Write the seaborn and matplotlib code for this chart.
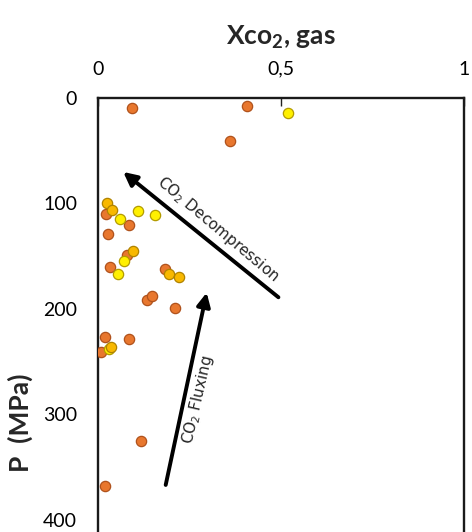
import pandas as pd
import matplotlib
matplotlib.use("Agg")
import matplotlib.pyplot as plt
import seaborn as sns

# values (x = XCO2 in gas, y = pressure in MPa)
orange_x = [0.092, 0.406, 0.361, 0.022, 0.085, 0.027, 0.080, 0.033, 0.184,
            0.133, 0.148, 0.211, 0.020, 0.084, 0.007, 0.117, 0.019]
orange_p = [9.8, 7.4, 40.5, 109.9, 120.3, 128.6, 148.8, 159.9, 162.4,
            191.5, 187.7, 198.8, 227.0, 228.2, 241.2, 325.1, 367.8]
yellow_x = [0.518, 0.108, 0.157, 0.060, 0.072, 0.055, 0.029]
yellow_p = [14.5, 106.8, 110.9, 115.0, 154.2, 166.5, 238.4]
amber_x = [0.025, 0.038, 0.095, 0.193, 0.220, 0.035]
amber_p = [99.2, 106.2, 144.7, 167.1, 170.1, 235.7]

x_ticks = [0, 0.5, 1]
x_tick_labels = ["0", "0,5", "1"]
y_ticks = [0, 100, 200, 300, 400]

df = pd.concat([
    pd.DataFrame({"x": orange_x, "p": orange_p, "group": "orange"}),
    pd.DataFrame({"x": yellow_x, "p": yellow_p, "group": "yellow"}),
    pd.DataFrame({"x": amber_x, "p": amber_p, "group": "amber"}),
], ignore_index=True)

sns.set_theme(style="white")
plt.rcParams["font.family"] = ["Lato", "DejaVu Sans"]

fig = plt.figure(figsize=(4.72, 5.32), dpi=100)
# axes run past the bottom edge of the figure, like the cropped original
ax = fig.add_axes([0.2076, -0.1757, 0.7754, 0.9915])

face = {"orange": "#E8772E", "yellow": "#FFF000", "amber": "#F8B800"}
edge = {"orange": "#B0521C", "yellow": "#B39B00", "amber": "#B08300"}
for g in ["orange", "yellow", "amber"]:
    sub = df[df["group"] == g]
    sns.scatterplot(data=sub, x="x", y="p", ax=ax, color=face[g],
                    edgecolor=edge[g], linewidth=0.9, s=55, legend=False, zorder=3)

ax.set_xlim(0, 1)
ax.set_ylim(500, 0)

ax.xaxis.tick_top()
ax.xaxis.set_label_position("top")
ax.set_xticks(x_ticks)
ax.set_xticklabels(x_tick_labels)
ax.set_yticks(y_ticks)
ax.tick_params(axis="x", direction="in", length=6, width=1, labelsize=14,
               pad=14.5, colors="#222222", labelcolor="black")
ax.tick_params(axis="y", direction="in", length=6, width=1, labelsize=14,
               pad=15, colors="#222222", labelcolor="black")

for s in ax.spines.values():
    s.set_color("#1a1a1a")
    s.set_linewidth(1.7)

ax.set_xlabel(r"X$\mathregular{co_2}$, gas", fontsize=19, fontweight="bold")
ax.xaxis.set_label_coords(0.5, 1.10)
ax.set_ylabel("P  (MPa)", fontsize=19, fontweight="bold")
ax.yaxis.set_label_coords(-0.178, 0.384)

# process arrows
arrow = dict(arrowstyle="-|>", color="black", lw=2.8, mutation_scale=20,
             shrinkA=0, shrinkB=0)
ax.annotate("", xy=(0.069, 70.1), xytext=(0.493, 188.9), arrowprops=arrow)
ax.annotate("", xy=(0.297, 184.5), xytext=(0.185, 366.8), arrowprops=arrow)

ax.text(0.328, 124, r"CO$_2$ Decompression", rotation=-40, ha="center",
        va="center", fontsize=11, family="DejaVu Sans", rotation_mode="anchor")
ax.text(0.273, 286, r"CO$_2$ Fluxing", rotation=77, ha="center",
        va="center", fontsize=11, family="DejaVu Sans", rotation_mode="anchor")

fig.savefig("out.png", dpi=100)
